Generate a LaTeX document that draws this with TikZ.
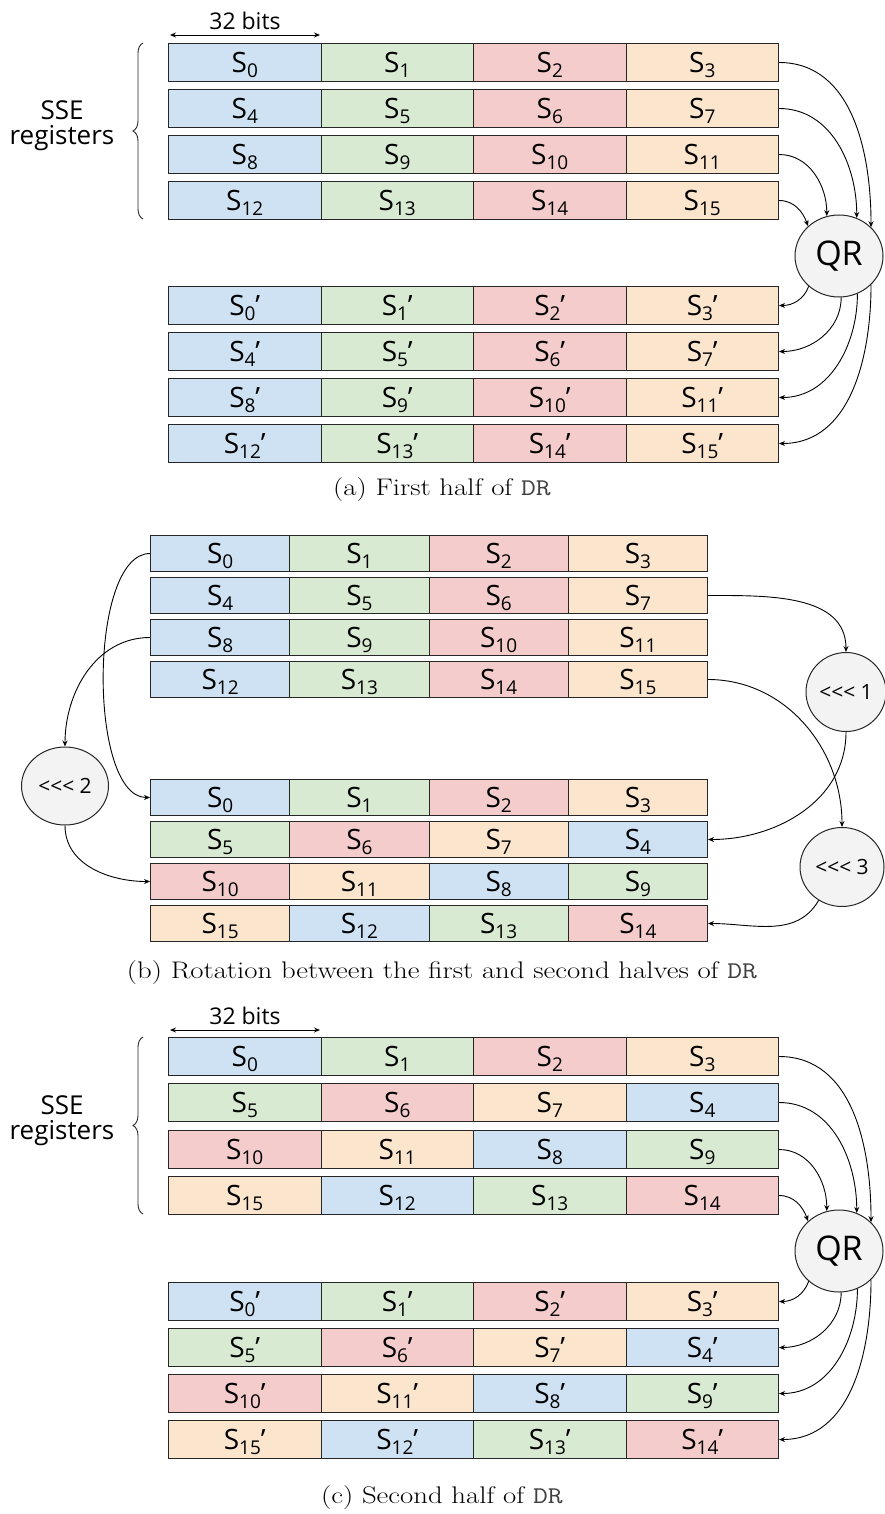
\documentclass[tikz,border=0pt]{standalone}
\usepackage{fontspec}
\newfontfamily\labfont{Open Sans}
\usetikzlibrary{arrows.meta,decorations.pathreplacing,shapes.geometric}
\definecolor{cblue}{HTML}{CFE2F3}
\definecolor{cgreen}{HTML}{D9EAD3}
\definecolor{cred}{HTML}{F4CCCC}
\definecolor{corange}{HTML}{FCE5CD}
\definecolor{cgray}{HTML}{F3F3F3}
\newcommand\rs[1]{\raisebox{-5pt}{\fontsize{19}{19}\selectfont #1}}
\newcommand\capwide[1]{\scalebox{1.2}[1]{#1}}
\newcommand\regrow[6]{\foreach \lab/\col [count=\i] in {#6}{\node[cell,fill=\col,minimum width=#4,minimum height=#5] (#1-\i) at ({#2+(\i-1)*#4},#3) {\lab};}}
\begin{document}
\begin{tikzpicture}[x=1pt,y=-1pt,
  cell/.style={draw=black!85,line width=1pt,inner sep=0pt,anchor=north west,
    font=\labfont\fontsize{28}{28}\selectfont,text height=20pt,text depth=0pt},
  ell/.style={ellipse,draw=black!85,line width=1pt,fill=cgray,inner sep=0pt},
  conn/.style={draw=black,line width=0.9pt,-{Stealth[length=6pt,width=5pt]}},
  dimarrow/.style={draw=black,line width=0.9pt,{Stealth[length=6pt,width=5pt]}-{Stealth[length=6pt,width=5pt]}},
  bracestyle/.style={draw=black!85,line width=0.9pt,decorate,decoration={brace,amplitude=10pt}},
  sidelab/.style={align=center,font=\labfont\fontsize{26}{25}\selectfont},
  capt/.style={font=\fontsize{24}{28}\selectfont}]
\useasboundingbox (0,0) rectangle (884,1514);

% ---------------- panel (a)
\node[font=\labfont\fontsize{23}{23}\selectfont] (bitsa) at (245,21) {32 bits};
\coordinate (da1) at (170,35); \coordinate (da2) at (320,35);
\draw[dimarrow] (da1) -- (da2);
\coordinate (bra1) at (143,219); \coordinate (bra2) at (143,43);
\draw[bracestyle] (bra1) -- (bra2);
\node[sidelab] (ssea) at (62,126) {SSE\\registers};

\regrow{ai1}{168}{43}{152.5}{38}{{S\rs{0}}/cblue,{S\rs{1}}/cgreen,{S\rs{2}}/cred,{S\rs{3}}/corange}
\regrow{ai2}{168}{89}{152.5}{38}{{S\rs{4}}/cblue,{S\rs{5}}/cgreen,{S\rs{6}}/cred,{S\rs{7}}/corange}
\regrow{ai3}{168}{135}{152.5}{38}{{S\rs{8}}/cblue,{S\rs{9}}/cgreen,{S\rs{10}}/cred,{S\rs{11}}/corange}
\regrow{ai4}{168}{181}{152.5}{38}{{S\rs{12}}/cblue,{S\rs{13}}/cgreen,{S\rs{14}}/cred,{S\rs{15}}/corange}

\regrow{ao1}{168}{286}{152.5}{38}{{S\rs{0}’}/cblue,{S\rs{1}’}/cgreen,{S\rs{2}’}/cred,{S\rs{3}’}/corange}
\regrow{ao2}{168}{332}{152.5}{38}{{S\rs{4}’}/cblue,{S\rs{5}’}/cgreen,{S\rs{6}’}/cred,{S\rs{7}’}/corange}
\regrow{ao3}{168}{378}{152.5}{38}{{S\rs{8}’}/cblue,{S\rs{9}’}/cgreen,{S\rs{10}’}/cred,{S\rs{11}’}/corange}
\regrow{ao4}{168}{424}{152.5}{38}{{S\rs{12}’}/cblue,{S\rs{13}’}/cgreen,{S\rs{14}’}/cred,{S\rs{15}’}/corange}

\node[ell,minimum width=88,minimum height=82,font=\labfont\fontsize{34}{34}\selectfont] (qa) at (839,256) {QR};
\draw[conn] (ai1-4.east) to[out=0,in=90] (qa.42);
\draw[conn] (ai2-4.east) to[out=0,in=90] (qa.65);
\draw[conn] (ai3-4.east) to[out=0,in=90] (qa.107);
\draw[conn] (ai4-4.east) to[out=0,in=110] (qa.136);
\draw[conn] (qa.225) to[out=-110,in=0] (ao1-4.east);
\draw[conn] (qa.273) to[out=-90,in=0] (ao2-4.east);
\draw[conn] (qa.296) to[out=-90,in=0] (ao3-4.east);
\draw[conn] (qa.318) to[out=-90,in=0] (ao4-4.east);

\node[capt] (capa) at (442,490) {\capwide{(a) First half of {\color{black!75}\texttt{DR}}}};

% ---------------- panel (b)
\regrow{bt1}{150}{535}{139.25}{36}{{S\rs{0}}/cblue,{S\rs{1}}/cgreen,{S\rs{2}}/cred,{S\rs{3}}/corange}
\regrow{bt2}{150}{577}{139.25}{36}{{S\rs{4}}/cblue,{S\rs{5}}/cgreen,{S\rs{6}}/cred,{S\rs{7}}/corange}
\regrow{bt3}{150}{619}{139.25}{36}{{S\rs{8}}/cblue,{S\rs{9}}/cgreen,{S\rs{10}}/cred,{S\rs{11}}/corange}
\regrow{bt4}{150}{661}{139.25}{36}{{S\rs{12}}/cblue,{S\rs{13}}/cgreen,{S\rs{14}}/cred,{S\rs{15}}/corange}

\regrow{bb1}{150}{779}{139.25}{36}{{S\rs{0}}/cblue,{S\rs{1}}/cgreen,{S\rs{2}}/cred,{S\rs{3}}/corange}
\regrow{bb2}{150}{821}{139.25}{36}{{S\rs{5}}/cgreen,{S\rs{6}}/cred,{S\rs{7}}/corange,{S\rs{4}}/cblue}
\regrow{bb3}{150}{863}{139.25}{36}{{S\rs{10}}/cred,{S\rs{11}}/corange,{S\rs{8}}/cblue,{S\rs{9}}/cgreen}
\regrow{bb4}{150}{905}{139.25}{36}{{S\rs{15}}/corange,{S\rs{12}}/cblue,{S\rs{13}}/cgreen,{S\rs{14}}/cred}

\node[ell,minimum width=87,minimum height=78,font=\labfont\fontsize{21}{21}\selectfont] (r2) at (65,786) {<<< 2};
\node[ell,minimum width=80,minimum height=79,font=\labfont\fontsize{21}{21}\selectfont] (r1) at (846,692) {<<< 1};
\node[ell,minimum width=84,minimum height=79,font=\labfont\fontsize{21}{21}\selectfont] (r3) at (842,867) {<<< 3};

\draw[conn] (bt1-1.west) to[out=180,in=180,looseness=0.65] (bb1-1.west);
\draw[conn] (bt3-1.west) to[out=180,in=90] (r2.north);
\draw[conn] (r2.south) to[out=-90,in=180] (bb3-1.west);
\draw[conn] (bt2-4.east) to[out=0,in=90] (r1.north);
\draw[conn] (r1.south) to[out=-90,in=0] (bb2-4.east);
\draw[conn] (bt4-4.east) to[out=0,in=90] (r3.north);
\draw[conn] (r3.235) to[out=-120,in=0] (bb4-4.east);

\node[capt] (capb) at (442,973) {\capwide{(b) Rotation between the first and second halves of {\color{black!75}\texttt{DR}}}};

% ---------------- panel (c)
\node[font=\labfont\fontsize{23}{23}\selectfont] (bitsc) at (245,1016) {32 bits};
\coordinate (dc1) at (170,1030); \coordinate (dc2) at (320,1030);
\draw[dimarrow] (dc1) -- (dc2);
\coordinate (brc1) at (143,1214); \coordinate (brc2) at (143,1037);
\draw[bracestyle] (brc1) -- (brc2);
\node[sidelab] (ssec) at (62,1121) {SSE\\registers};

\regrow{ci1}{168}{1037}{152.5}{38}{{S\rs{0}}/cblue,{S\rs{1}}/cgreen,{S\rs{2}}/cred,{S\rs{3}}/corange}
\regrow{ci2}{168}{1083}{152.5}{38}{{S\rs{5}}/cgreen,{S\rs{6}}/cred,{S\rs{7}}/corange,{S\rs{4}}/cblue}
\regrow{ci3}{168}{1130}{152.5}{38}{{S\rs{10}}/cred,{S\rs{11}}/corange,{S\rs{8}}/cblue,{S\rs{9}}/cgreen}
\regrow{ci4}{168}{1176}{152.5}{38}{{S\rs{15}}/corange,{S\rs{12}}/cblue,{S\rs{13}}/cgreen,{S\rs{14}}/cred}

\regrow{co1}{168}{1282}{152.5}{38}{{S\rs{0}’}/cblue,{S\rs{1}’}/cgreen,{S\rs{2}’}/cred,{S\rs{3}’}/corange}
\regrow{co2}{168}{1328}{152.5}{38}{{S\rs{5}’}/cgreen,{S\rs{6}’}/cred,{S\rs{7}’}/corange,{S\rs{4}’}/cblue}
\regrow{co3}{168}{1374}{152.5}{38}{{S\rs{10}’}/cred,{S\rs{11}’}/corange,{S\rs{8}’}/cblue,{S\rs{9}’}/cgreen}
\regrow{co4}{168}{1420}{152.5}{38}{{S\rs{15}’}/corange,{S\rs{12}’}/cblue,{S\rs{13}’}/cgreen,{S\rs{14}’}/cred}

\node[ell,minimum width=88,minimum height=82,font=\labfont\fontsize{34}{34}\selectfont] (qc) at (839,1251) {QR};
\draw[conn] (ci1-4.east) to[out=0,in=90] (qc.42);
\draw[conn] (ci2-4.east) to[out=0,in=90] (qc.65);
\draw[conn] (ci3-4.east) to[out=0,in=90] (qc.107);
\draw[conn] (ci4-4.east) to[out=0,in=110] (qc.136);
\draw[conn] (qc.225) to[out=-110,in=0] (co1-4.east);
\draw[conn] (qc.273) to[out=-90,in=0] (co2-4.east);
\draw[conn] (qc.296) to[out=-90,in=0] (co3-4.east);
\draw[conn] (qc.318) to[out=-90,in=0] (co4-4.east);

\node[capt] (capc) at (442,1497) {\capwide{(c) Second half of {\color{black!75}\texttt{DR}}}};
\end{tikzpicture}
\end{document}
